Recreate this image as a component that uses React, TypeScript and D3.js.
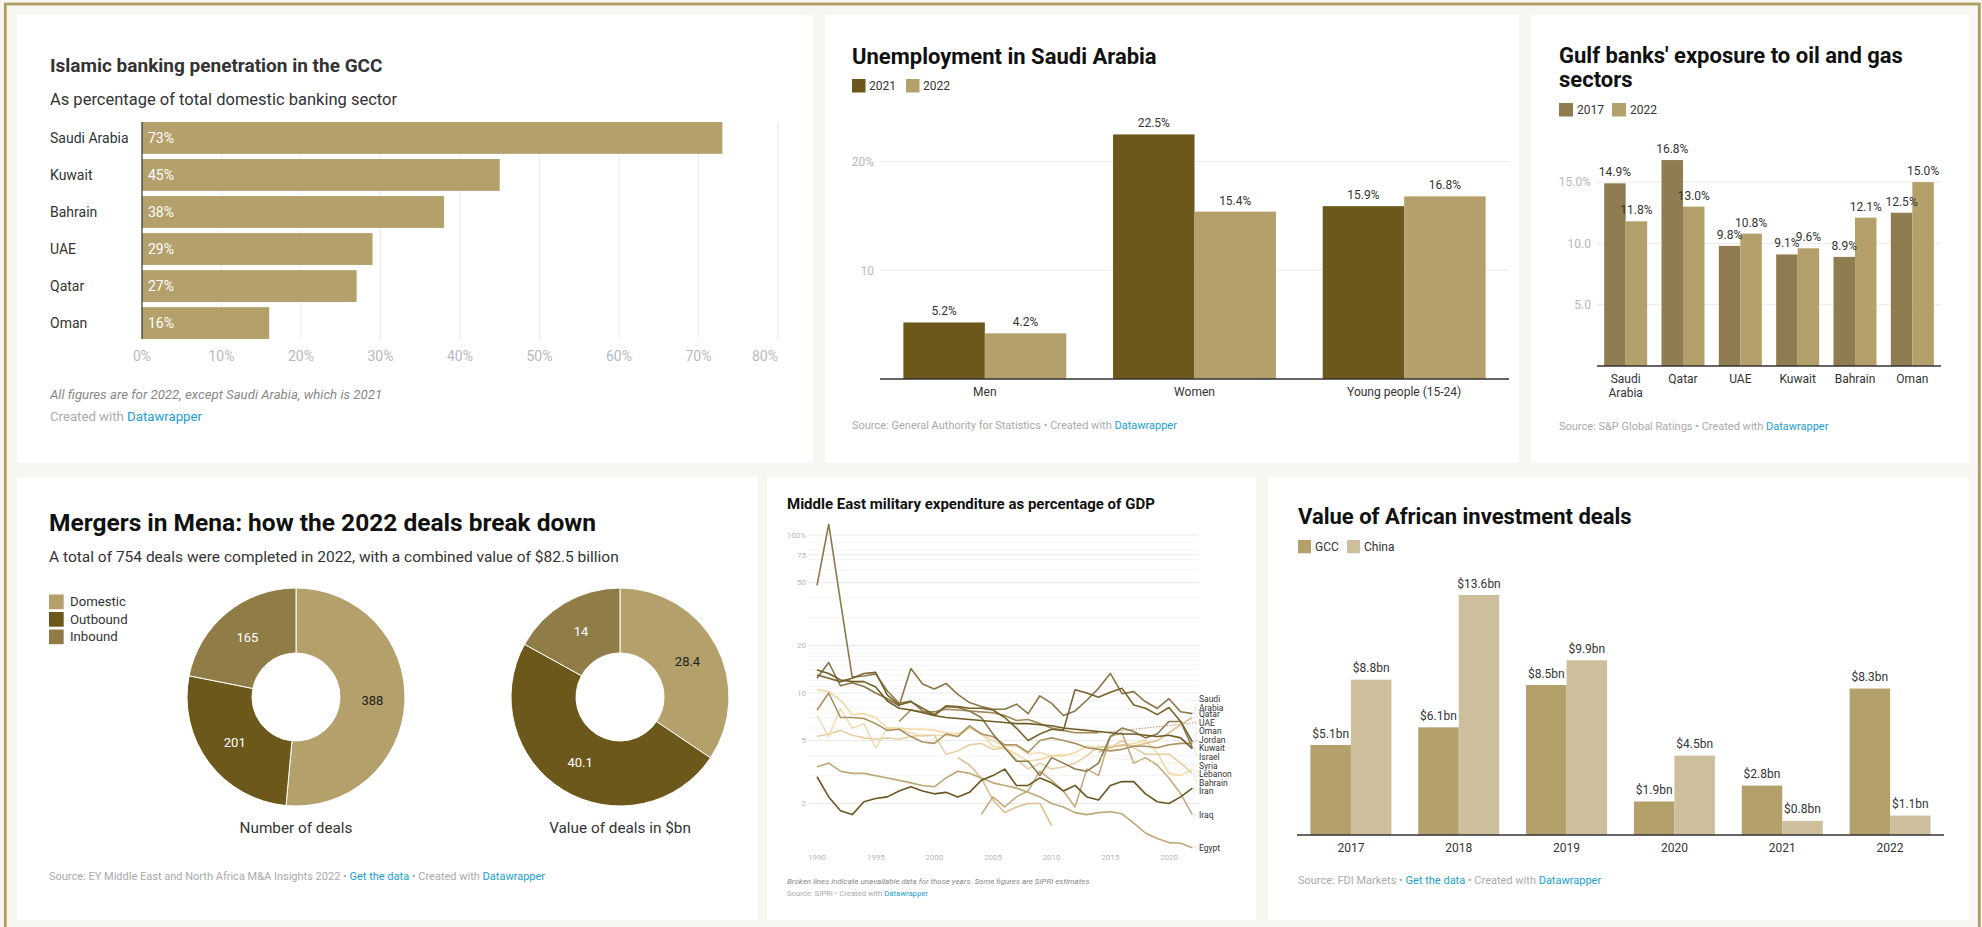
import React from 'react';
import * as d3 from 'd3';

// ---------------- DATA ----------------
// Panel 1: Islamic banking penetration
const islamicCountries = ['Saudi Arabia', 'Kuwait', 'Bahrain', 'UAE', 'Qatar', 'Oman'];
const islamicValues = [73, 45, 38, 29, 27, 16];
const islamicTicks = [0, 10, 20, 30, 40, 50, 60, 70, 80];

// Panel 2: Unemployment in Saudi Arabia
const unempGroups = ['Men', 'Women', 'Young people (15-24)'];
const unempSeries = ['2021', '2022'];
const unemp2021 = [5.2, 22.5, 15.9];
const unemp2022 = [4.2, 15.4, 16.8];
const unempTicks = [10, 20];

// Panel 3: Gulf banks' exposure
const exposureCountries = ['Saudi Arabia', 'Qatar', 'UAE', 'Kuwait', 'Bahrain', 'Oman'];
const exposureSeries = ['2017', '2022'];
const exposure2017 = [14.9, 16.8, 9.8, 9.1, 8.9, 12.5];
const exposure2022 = [11.8, 13.0, 10.8, 9.6, 12.1, 15.0];
const exposureTicks = [5, 10, 15];

// Panel 4: Mergers in Mena
const dealTypes = ['Domestic', 'Outbound', 'Inbound'];
const dealCounts = [388, 201, 165];
const dealValues = [28.4, 40.1, 14];

// Panel 5: Military expenditure (% of GDP), 1990-2022
const _ = null;
const milYears = d3.range(1990, 2023);
const milNames = ['Saudi Arabia', 'Qatar', 'UAE', 'Oman', 'Jordan', 'Kuwait', 'Israel', 'Syria', 'Lebanon', 'Bahrain', 'Iran', 'Iraq', 'Egypt'];
const milSaudi = [12.4, 15.6, 11.1, 11.6, 11.0, 10.0, 9.2, 8.3, 14.3, 11.4, 10.6, 11.5, 9.8, 8.7, 8.2, 7.9, 7.9, 8.5, 7.4, 9.6, 8.6, 7.2, 7.7, 9.0, 10.7, 13.3, 9.9, 10.2, 8.8, 8.0, 9.2, 7.6, 7.4];
const milQatar = [_, _, _, _, _, _, _, _, _, _, _, _, 3.9, 3.5, 2.9, 2.1, 1.75, 1.9, 2.0, 2.0, 1.45, _, _, _, 4.2, 4.5, 4.7, 4.6, 4.8, 5.0, 5.6, 6.3, 7.0];
const milUAE = [_, _, _, _, _, _, _, 6.6, 7.8, 7.6, 7.6, 7.9, 7.8, 7.7, 7.6, 7.5, 7.2, 6.7, 6.8, 6.4, 6.0, 5.8, 5.6, 5.6, 5.6, _, _, _, _, _, _, _, _];
const milOman = [13.0, 12.4, 11.8, 12.4, 13.3, 13.5, 9.7, 8.4, 8.8, 8.0, 7.3, 8.3, 8.2, 8.0, 8.0, 7.8, 7.0, 6.0, 5.0, 5.5, 5.9, 5.8, 10.5, 10.0, 9.4, 10.1, 10.7, 8.4, 8.0, 7.3, 8.1, 6.6, 4.9];
const milJordan = [7.8, 10.0, 7.0, 7.0, 6.9, 6.4, 5.8, 5.9, 5.3, 4.9, 4.8, 5.5, 5.3, 6.2, 5.5, 5.3, 4.7, 4.7, 4.2, 5.0, 5.2, 5.0, 4.8, 4.5, 4.4, 4.3, 4.4, 4.6, 4.6, 4.5, 4.7, 4.8, 4.8];
const milKuwait = [48, 117, 38, 12.6, 12.8, 13.2, 10.3, 8.6, 8.9, 7.7, 7.2, 8.2, 8.1, 7.7, 7.0, 5.5, 4.5, 3.7, 3.7, 3.0, 3.9, 3.6, 3.3, 3.2, 3.6, 5.3, 6.0, 5.7, 5.2, 5.5, 6.6, 6.6, 4.5];
const milIsrael = [14.0, 13.3, 12.1, 11.8, 11.8, 10.9, 8.9, 8.0, 7.8, 7.5, 7.2, 7.0, 6.9, 6.8, 6.7, 6.6, 6.5, 6.4, 6.4, 6.3, 6.2, 6.0, 5.9, 5.8, 5.7, 5.6, 5.5, 5.5, 5.4, 5.3, 5.4, 5.2, 4.45];
const milSyria = [7.2, 5.3, 8.0, 6.0, 6.4, 4.5, 6.0, 5.9, 5.6, 5.3, 5.4, 5.4, 5.3, 6.0, 5.5, 5.0, 4.6, 4.6, 4.1, 4.2, 4.0, 4.1, _, _, _, _, _, _, _, _, _, _, _];
const milLebanon = [10.5, 10.2, 9.0, 7.3, 7.4, 7.0, 6.0, 6.0, 5.9, 5.9, 5.8, 5.6, 5.5, 6.0, 5.6, 4.6, 4.5, 4.1, 3.7, 3.8, 4.0, 4.0, 4.2, 4.6, 4.5, 4.6, 4.6, 4.8, 5.0, 4.2, 3.1, 3.0, 3.3];
const milBahrain = [5.3, 5.5, 5.8, 5.4, 5.2, 5.1, 5.2, 5.1, 5.3, 5.4, 5.4, 4.1, 4.3, 4.7, 4.8, 4.4, 4.5, 3.8, 3.3, 3.6, 3.3, 3.4, 3.6, 4.0, 4.6, 4.5, 5.0, 4.5, 4.1, 4.1, 4.1, 3.6, 3.1];
const milIran = [2.95, 2.2, 1.8, 1.7, 2.05, 2.15, 2.2, 2.4, 2.55, 2.4, 2.3, 2.35, 2.2, 2.35, 2.8, 3.0, 3.3, 2.6, 2.6, 2.9, 2.7, 2.4, 2.6, 2.2, 2.1, 2.6, 2.75, 2.75, 2.3, 2.05, 2.0, 2.2, 2.5];
const milIraq = [_, _, _, _, _, _, _, _, _, _, _, _, _, _, 1.7, 2.2, 1.9, 2.2, 2.4, 3.2, 2.8, 2.4, 1.9, 3.3, 3.0, 5.3, 5.6, 3.6, 3.9, 3.5, 2.9, 2.3, 1.7];
const milEgypt = [3.4, 3.6, 3.2, 3.1, 3.1, 3.0, 2.9, 2.8, 2.7, 2.6, 2.55, 2.9, 3.2, 3.1, 2.9, 2.7, 2.6, 2.5, 2.35, 2.2, 2.0, 1.9, 1.75, 1.7, 1.75, 1.77, 1.72, 1.5, 1.3, 1.2, 1.13, 1.12, 1.05];
const milValues = [milSaudi, milQatar, milUAE, milOman, milJordan, milKuwait, milIsrael, milSyria, milLebanon, milBahrain, milIran, milIraq, milEgypt];
const milYTicks = [2, 5, 10, 20, 50, 75, 100];
const milXTicks = [1990, 1995, 2000, 2005, 2010, 2015, 2020];

// Panel 6: African investment deals ($bn)
const africaYears = ['2017', '2018', '2019', '2020', '2021', '2022'];
const africaSeries = ['GCC', 'China'];
const africaGCC = [5.1, 6.1, 8.5, 1.9, 2.8, 8.3];
const africaChina = [8.8, 13.6, 9.9, 4.5, 0.8, 1.1];

// ---------------- STYLE ----------------
const FONT = 'Roboto, "Noto Sans", Arial, sans-serif';
const TAN = '#b4a06b';
const DARK = '#6b581a';
const MID = '#8f7d51';
const INB = '#8f7c46';
const LIGHT = '#cdbf9b';
const BLUE = '#1ba0d3';
const TXT = '#333333';
const TICK = '#b8b8b8';
const SRC = '#aaaaaa';
const GRID = '#ebebeb';
const milColors = ['#8a7647', '#dcbf8c', '#a08a55', '#76622c', '#a8925f', '#8c7a4b', '#6f5b25', '#efdcb8', '#f3d9a4', '#e6d0a2', '#6a5720', '#c4ac7f', '#bfa775'];

function Source({ x, y, parts, size = 11 }: { x: number; y: number; parts: [string, boolean][]; size?: number }) {
  return (
    <text x={x} y={y} dy="0.35em" fontSize={size} fill={SRC}>
      {parts.map((p, i) => (
        <tspan key={i} fill={p[1] ? BLUE : SRC}>{p[0]}</tspan>
      ))}
    </text>
  );
}

function IslamicPanel() {
  const x = d3.scaleLinear().domain([0, 80]).range([142, 778]);
  const y = d3.scaleBand<string>().domain(islamicCountries).range([122, 339]).paddingInner(0.14);
  return (
    <g>
      <text x={50} y={72} fontSize={19} fontWeight={700} fill={TXT}>Islamic banking penetration in the GCC</text>
      <text x={50} y={104.5} fontSize={16.5} fill={TXT}>As percentage of total domestic banking sector</text>
      {islamicTicks.filter(t => t > 0).map(t => (
        <line key={t} x1={x(t)} x2={x(t)} y1={122} y2={340} stroke={GRID} strokeWidth={1} />
      ))}
      {islamicCountries.map((c, i) => (
        <g key={c}>
          <rect x={x(0)} y={y(c)!} width={x(islamicValues[i]) - x(0)} height={y.bandwidth()} fill={TAN} />
          <text x={x(0) + 6} y={y(c)! + y.bandwidth() / 2} dy="0.35em" fontSize={14} fill="#fff">{islamicValues[i]}%</text>
          <text x={50} y={y(c)! + y.bandwidth() / 2} dy="0.35em" fontSize={14} fill={TXT}>{c}</text>
        </g>
      ))}
      <line x1={x(0)} x2={x(0)} y1={122} y2={339} stroke="#333" strokeWidth={1.2} />
      {islamicTicks.map((t, i) => (
        <text key={t} x={x(t)} y={356} dy="0.35em" fontSize={14} fill={TICK}
          textAnchor={i === islamicTicks.length - 1 ? 'end' : 'middle'}>{t}%</text>
      ))}
      <text x={50} y={394} dy="0.35em" fontSize={13.2} fontStyle="italic" fill="#888">All figures are for 2022, except Saudi Arabia, which is 2021</text>
      <Source x={50} y={416} size={13.2} parts={[['Created with ', false], ['Datawrapper', true]]} />
    </g>
  );
}

function UnempPanel() {
  const x0 = d3.scaleBand<string>().domain(unempGroups).range([880, 1509]).paddingInner(0.223).paddingOuter(0.1115);
  const x1 = d3.scaleBand<string>().domain(unempSeries).range([0, x0.bandwidth()]);
  const y = d3.scaleLinear().domain([0, 10]).range([379, 270.3]);
  const colors = [DARK, TAN];
  const vals = [unemp2021, unemp2022];
  return (
    <g>
      <text x={852} y={63.5} fontSize={22} fontWeight={700} fill="#111">Unemployment in Saudi Arabia</text>
      {unempSeries.map((s, i) => (
        <g key={s}>
          <rect x={852 + i * 54} y={79} width={13.5} height={13.5} fill={colors[i]} />
          <text x={852 + i * 54 + 17} y={85.8} dy="0.35em" fontSize={12} fill={TXT}>{s}</text>
        </g>
      ))}
      {unempTicks.map(t => (
        <g key={t}>
          <line x1={880} x2={1509} y1={y(t)} y2={y(t)} stroke={GRID} />
          <text x={874} y={y(t)} dy="0.35em" fontSize={12} fill={TICK} textAnchor="end">{t === 20 ? '20%' : t}</text>
        </g>
      ))}
      {unempGroups.map((g, gi) => (
        <g key={g}>
          {unempSeries.map((s, si) => {
            const v = vals[si][gi];
            const bx = x0(g)! + x1(s)!;
            return (
              <g key={s}>
                <rect x={bx} y={y(v)} width={x1.bandwidth()} height={y(0) - y(v)} fill={colors[si]} />
                <text x={bx + x1.bandwidth() / 2} y={y(v) - 7} fontSize={12} fill={TXT} textAnchor="middle">{v.toFixed(1)}%</text>
              </g>
            );
          })}
          <text x={x0(g)! + x0.bandwidth() / 2} y={392} dy="0.35em" fontSize={12} fill={TXT} textAnchor="middle">{g}</text>
        </g>
      ))}
      <line x1={880} x2={1509} y1={y(0)} y2={y(0)} stroke="#333" strokeWidth={1.5} />
      <Source x={852} y={425} parts={[['Source: General Authority for Statistics • Created with ', false], ['Datawrapper', true]]} />
    </g>
  );
}

function ExposurePanel() {
  const x0 = d3.scaleBand<string>().domain(exposureCountries).range([1597, 1941]).paddingInner(0.25).paddingOuter(0.125);
  const x1 = d3.scaleBand<string>().domain(exposureSeries).range([0, x0.bandwidth()]);
  const y = d3.scaleLinear().domain([0, 5]).range([366, 304.7]);
  const colors = [MID, TAN];
  const vals = [exposure2017, exposure2022];
  return (
    <g>
      <text x={1559} y={62.7} fontSize={22} fontWeight={700} fill="#111">Gulf banks' exposure to oil and gas</text>
      <text x={1559} y={87.3} fontSize={22} fontWeight={700} fill="#111">sectors</text>
      {exposureSeries.map((s, i) => (
        <g key={s}>
          <rect x={1559 + i * 53} y={103} width={14} height={13.5} fill={colors[i]} />
          <text x={1559 + i * 53 + 18} y={110} dy="0.35em" fontSize={12} fill={TXT}>{s}</text>
        </g>
      ))}
      {exposureTicks.map(t => (
        <g key={t}>
          <line x1={1597} x2={1941} y1={y(t)} y2={y(t)} stroke={GRID} />
          <text x={1591} y={y(t)} dy="0.35em" fontSize={12} fill={TICK} textAnchor="end">{t === 15 ? '15.0%' : t.toFixed(1)}</text>
        </g>
      ))}
      {exposureCountries.map((c, ci) => (
        <g key={c}>
          {exposureSeries.map((s, si) => {
            const v = vals[si][ci];
            const bx = x0(c)! + x1(s)!;
            return <rect key={s} x={bx} y={y(v)} width={x1.bandwidth()} height={y(0) - y(v)} fill={colors[si]} />;
          })}
          {c.split(' ').map((w, li) => (
            <text key={li} x={x0(c)! + x0.bandwidth() / 2} y={378.3 + li * 14.4} dy="0.35em" fontSize={12} fill={TXT} textAnchor="middle">{w}</text>
          ))}
        </g>
      ))}
      {exposureCountries.map((c, ci) => (
        <g key={c + 'l'}>
          {exposureSeries.map((s, si) => {
            const v = vals[si][ci];
            const bx = x0(c)! + x1(s)!;
            return <text key={s} x={bx + x1.bandwidth() / 2} y={y(v) - 7} fontSize={12} fill={TXT} textAnchor="middle">{v.toFixed(1)}%</text>;
          })}
        </g>
      ))}
      <line x1={1597} x2={1941} y1={y(0)} y2={y(0)} stroke="#333" strokeWidth={1.5} />
      <Source x={1559} y={426} parts={[['Source: S&P Global Ratings • Created with ', false], ['Datawrapper', true]]} />
    </g>
  );
}

function Donut({ cx, cy, values, caption }: { cx: number; cy: number; values: number[]; caption: string }) {
  const colors = [TAN, DARK, INB];
  const pie = d3.pie<number>().sort(null).value(d => d);
  const arc = d3.arc<d3.PieArcDatum<number>>().innerRadius(44).outerRadius(109);
  const arcs = pie(values);
  return (
    <g transform={`translate(${cx},${cy})`}>
      {arcs.map((a, i) => (
        <path key={i} d={arc(a)!} fill={colors[i]} stroke="#fff" strokeWidth={1} />
      ))}
      {arcs.map((a, i) => {
        const [lx, ly] = arc.centroid(a);
        return (
          <text key={'t' + i} x={lx} y={ly} dy="0.35em" fontSize={13} textAnchor="middle" fill={i === 0 ? '#222' : '#fff'}>{String(values[i])}</text>
        );
      })}
      <text x={0} y={827.3 - cy} dy="0.35em" fontSize={15.3} fill={TXT} textAnchor="middle">{caption}</text>
    </g>
  );
}

function MergersPanel() {
  const colors = [TAN, DARK, INB];
  return (
    <g>
      <text x={49} y={531} fontSize={24.5} fontWeight={700} fill="#111">Mergers in Mena: how the 2022 deals break down</text>
      <text x={49} y={562} fontSize={15.5} fill={TXT}>A total of 754 deals were completed in 2022, with a combined value of $82.5 billion</text>
      {dealTypes.map((t, i) => (
        <g key={t}>
          <rect x={49} y={594.5 + i * 17.5} width={14.7} height={14.7} fill={colors[i]} />
          <text x={70} y={601.8 + i * 17.5} dy="0.35em" fontSize={13.2} fill={TXT}>{t}</text>
        </g>
      ))}
      <Donut cx={296} cy={697} values={dealCounts} caption="Number of deals" />
      <Donut cx={620} cy={697} values={dealValues} caption="Value of deals in $bn" />
      <Source x={49} y={876} parts={[['Source: EY Middle East and North Africa M&A Insights 2022 • ', false], ['Get the data', true], [' • Created with ', false], ['Datawrapper', true]]} />
    </g>
  );
}

function dodge(ys: number[], hs: number[]) {
  const pos = ys.slice();
  for (let k = 0; k < 400; k++) {
    for (let i = 1; i < pos.length; i++) {
      const minGap = (hs[i - 1] + hs[i]) / 2;
      const gap = pos[i] - pos[i - 1];
      if (gap < minGap) {
        const d = (minGap - gap) / 2;
        pos[i - 1] -= d;
        pos[i] += d;
      }
    }
  }
  return pos;
}

function MilitaryPanel() {
  const x = d3.scaleLinear().domain([1990, 2022]).range([817, 1192.4]);
  const y = d3.scaleLog().domain([1, 100]).range([851, 535]);
  const line = d3.line<number | null>()
    .defined(d => d != null)
    .x((_d, i) => x(milYears[i]))
    .y(d => y(d as number));
  const gridVals = [2, 3, 4, 6, 7, 8, 9, 30, 40, 60, 70, 80, 90, 11, 12, 13, 14, 15, 16, 17, 18, 19];
  // label placement
  const ends = milValues.map(vals => {
    let li = vals.length - 1;
    while (li >= 0 && vals[li] == null) li--;
    return { i: li, v: vals[li] as number };
  });
  const order = milNames.map((_n, i) => i).sort((a, b) => y(ends[a].v) - y(ends[b].v));
  const hs = order.map(i => (milNames[i] === 'Saudi Arabia' ? 13 : 8.6));
  const placed = dodge(order.map(i => y(ends[i].v)), hs);
  const labelY: number[] = [];
  order.forEach((idx, k) => { labelY[idx] = placed[k]; });
  const drawOrder = [7, 8, 9, 1, 2, 11, 12, 4, 0, 5, 3, 6, 10];
  return (
    <g>
      <text x={787} y={509.3} fontSize={15} fontWeight={700} fill="#111">Middle East military expenditure as percentage of GDP</text>
      {gridVals.map(g => (
        <line key={'g' + g} x1={808} x2={1199} y1={y(g)} y2={y(g)} stroke="#f4f4f4" strokeWidth={1} />
      ))}
      {milYTicks.map(t => (
        <g key={t}>
          <line x1={808} x2={1199} y1={y(t)} y2={y(t)} stroke="#e9e9e9" strokeWidth={1} />
          <text x={806} y={y(t)} dy="0.35em" fontSize={8} fill={TICK} textAnchor="end">{t === 100 ? '100%' : t}</text>
        </g>
      ))}
      {milXTicks.map(t => (
        <text key={t} x={x(t)} y={857} dy="0.35em" fontSize={8} fill={TICK} textAnchor="middle">{t}</text>
      ))}
      {drawOrder.map(i => (
        <path key={milNames[i]} d={line(milValues[i])!} fill="none" stroke={milColors[i]} strokeWidth={1.6} strokeLinejoin="round" />
      ))}
      {milNames.map((n, i) => {
        const e = ends[i];
        const ex = x(milYears[e.i]);
        const ey = y(e.v);
        const early = e.i < milYears.length - 1;
        return (
          <g key={'lab' + n}>
            <line x1={ex + 1.5} y1={ey} x2={1197} y2={labelY[i]} stroke={early ? milColors[i] : '#b5b5b5'} strokeWidth={early ? 1 : 0.8} strokeDasharray="1.2,1.6" />
            {n === 'Saudi Arabia' ? (
              <>
                <text x={1199} y={labelY[i] - 4.5} dy="0.35em" fontSize={8.5} fill={TXT}>Saudi</text>
                <text x={1199} y={labelY[i] + 4.5} dy="0.35em" fontSize={8.5} fill={TXT}>Arabia</text>
              </>
            ) : (
              <text x={1199} y={labelY[i]} dy="0.35em" fontSize={8.5} fill={TXT}>{n}</text>
            )}
          </g>
        );
      })}
      <text x={787} y={880.7} dy="0.35em" fontSize={8} fontStyle="italic" fill="#888">Broken lines indicate unavailable data for those years. Some figures are SIPRI estimates</text>
      <Source x={787} y={893.3} size={7.7} parts={[['Source: SIPRI • Created with ', false], ['Datawrapper', true]]} />
    </g>
  );
}

function AfricaPanel() {
  const x0 = d3.scaleBand<string>().domain(africaYears).range([1297, 1944]).paddingInner(0.249).paddingOuter(0.1245);
  const x1 = d3.scaleBand<string>().domain(africaSeries).range([0, x0.bandwidth()]);
  const y = d3.scaleLinear().domain([0, 13.6]).range([835, 595]);
  const colors = [TAN, LIGHT];
  const vals = [africaGCC, africaChina];
  return (
    <g>
      <text x={1298} y={524.3} fontSize={22} fontWeight={700} fill="#111">Value of African investment deals</text>
      {africaSeries.map((s, i) => (
        <g key={s}>
          <rect x={1298 + i * 49} y={540} width={13} height={13.3} fill={colors[i]} />
          <text x={1298 + i * 49 + 17} y={546.7} dy="0.35em" fontSize={12} fill={TXT}>{s}</text>
        </g>
      ))}
      {africaYears.map((yr, yi) => (
        <g key={yr}>
          {africaSeries.map((s, si) => {
            const v = vals[si][yi];
            const bx = x0(yr)! + x1(s)!;
            return (
              <g key={s}>
                <rect x={bx} y={y(v)} width={x1.bandwidth()} height={y(0) - y(v)} fill={colors[si]} />
                <text x={bx + x1.bandwidth() / 2} y={y(v) - 7.5} fontSize={12} fill={TXT} textAnchor="middle">${v.toFixed(1)}bn</text>
              </g>
            );
          })}
          <text x={x0(yr)! + x0.bandwidth() / 2} y={847.3} dy="0.35em" fontSize={12} fill={TXT} textAnchor="middle">{yr}</text>
        </g>
      ))}
      <line x1={1297} x2={1944} y1={y(0)} y2={y(0)} stroke="#333" strokeWidth={1.5} />
      <Source x={1298} y={880} parts={[['Source: FDI Markets • ', false], ['Get the data', true], [' • Created with ', false], ['Datawrapper', true]]} />
    </g>
  );
}

export default function App() {
  return (
    <svg width={1982} height={927} viewBox="0 0 1982 927"
      style={{ position: 'absolute', left: 0, top: 0, display: 'block' }} fontFamily={FONT}>
      <rect x={0} y={0} width={1982} height={927} fill="#f7f6f1" />
      <rect x={5.3} y={4} width={1974} height={960} fill="none" stroke="#b09d62" strokeWidth={2.8} />
      <rect x={17} y={15} width={796} height={448} fill="#fff" />
      <rect x={825} y={15} width={694} height={448} fill="#fff" />
      <rect x={1531} y={15} width={438} height={448} fill="#fff" />
      <rect x={17} y={477} width={741} height={443} fill="#fff" />
      <rect x={767} y={477} width={489} height={443} fill="#fff" />
      <rect x={1268} y={477} width={701} height={443} fill="#fff" />
      <IslamicPanel />
      <UnempPanel />
      <ExposurePanel />
      <MergersPanel />
      <MilitaryPanel />
      <AfricaPanel />
    </svg>
  );
}
